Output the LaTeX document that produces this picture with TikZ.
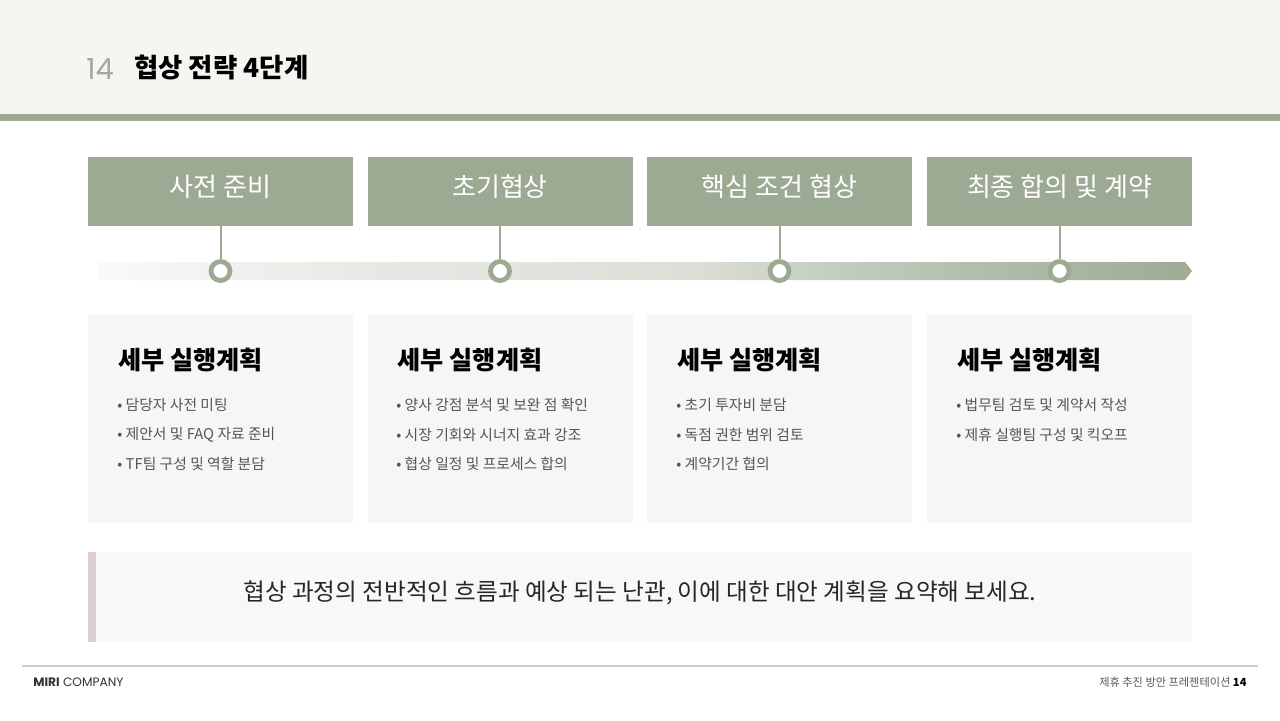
\documentclass[tikz,border=0pt]{standalone}
\usepackage{fontspec}
\setmainfont{Noto Sans CJK KR}
\newfontfamily\latinfont{Poppins}
\definecolor{hdrbg}{HTML}{F5F5F1}
\definecolor{sage}{HTML}{9DAA93}
\definecolor{numgray}{HTML}{A2A99A}
\definecolor{cardbg}{HTML}{F7F6F4}
\definecolor{notebg}{HTML}{FAF7F7}
\definecolor{notebar}{HTML}{DDCFCF}
\definecolor{footline}{HTML}{CCCCCC}
\definecolor{bultxt}{HTML}{555555}
\definecolor{tA}{HTML}{FAFAF8}
\definecolor{tB}{HTML}{E6E8E3}
\definecolor{tC}{HTML}{DCDFD8}
\definecolor{tD}{HTML}{BFCABC}
\definecolor{tE}{HTML}{AEBAA7}
\definecolor{tF}{HTML}{A0AB96}
\pgfdeclarehorizontalshading{tlshade}{100bp}{color(0bp)=(tA); color(25bp)=(tA); color(38bp)=(tB); color(52bp)=(tC); color(60bp)=(tD); color(67bp)=(tE); color(75bp)=(tF); color(100bp)=(tF)}
\tikzset{
  stagebox/.style={fill=sage, draw=none, minimum width=132.5pt, minimum height=34.5pt, inner sep=0pt},
  stagetext/.style={inner sep=0pt, text=white, font=\fontsize{13}{15}\selectfont},
  cardbox/.style={fill=cardbg, draw=none, minimum width=132.5pt, minimum height=104.5pt, inner sep=0pt},
  cardhead/.style={anchor=west, inner sep=0pt, font=\fontsize{12.6}{14}\selectfont\bfseries, text=black},
  bullet/.style={anchor=west, inner sep=0pt, font=\fontsize{7.4}{9}\selectfont, text=bultxt},
  stem/.style={draw=sage, line width=1pt},
  dot/.style={circle, draw=sage, fill=white, line width=2.4pt, minimum size=9.5pt, inner sep=0pt},
}
\begin{document}
\begin{tikzpicture}[x=0.5pt,y=-0.5pt]
\useasboundingbox (0,0) rectangle (1280,720);
\fill[white] (0,0) rectangle (1280,720);
% header
\fill[hdrbg] (0,0) rectangle (1280,114);
\fill[sage] (0,114) rectangle (1280,121);
\node[anchor=west, inner sep=0pt, text=numgray, font=\latinfont\fontsize{14.5}{16}\selectfont] (num) at (86,69) {14};
\node[anchor=west, inner sep=0pt, text=black, font=\fontsize{13.2}{15}\selectfont\bfseries] (title) at (134,68) {협상 전략 4단계};
% timeline bar
\shade[shading=tlshade] (97,262) -- (1185,262) -- (1192,271) -- (1185,280) -- (97,280) -- cycle;
% stages
\foreach \i/\cx/\lab in {1/220.5/사전 준비, 2/500/초기협상, 3/779.5/핵심 조건 협상, 4/1059.5/최종 합의 및 계약}{
  \node[stagebox] (s\i) at (\cx,191.5) {};
  \node[stagetext] (st\i) at (\cx,187) {\lab};
  \node[dot] (d\i) at (\cx,271) {};
  \draw[stem] (s\i.south) -- (d\i.north);
  \node[cardbox] (c\i) at (\cx,418.5) {};
  \node[cardhead] (h\i) at ([xshift=15pt]c\i.west |- 0,360) {세부 실행계획};
}
\node[bullet] (b11) at (117,405) {• 담당자 사전 미팅};
\node[bullet] (b12) at (117,435) {• 제안서 및 FAQ 자료 준비};
\node[bullet] (b13) at (117,464) {• TF팀 구성 및 역할 분담};
\node[bullet] (b21) at (396,405) {• 양사 강점 분석 및 보완 점 확인};
\node[bullet] (b22) at (396,435) {• 시장 기회와 시너지 효과 강조};
\node[bullet] (b23) at (396,464) {• 협상 일정 및 프로세스 합의};
\node[bullet] (b31) at (676,405) {• 초기 투자비 분담};
\node[bullet] (b32) at (676,435) {• 독점 권한 범위 검토};
\node[bullet] (b33) at (676,464) {• 계약기간 협의};
\node[bullet] (b41) at (956,405) {• 법무팀 검토 및 계약서 작성};
\node[bullet] (b42) at (956,435) {• 제휴 실행팀 구성 및 킥오프};
% note
\fill[notebg] (88,552) rectangle (1192,642);
\fill[notebar] (88,552) rectangle (96,642);
\node[inner sep=0pt, text=black!85, font=\fontsize{11.8}{14}\selectfont] (note) at (640,593) {협상 과정의 전반적인 흐름과 예상 되는 난관, 이에 대한 대안 계획을 요약해 보세요.};
% footer
\draw[footline, line width=1pt] (22,666) -- (1258,666);
\node[anchor=west, inner sep=0pt, text=black!80, font=\latinfont\fontsize{6.1}{7}\selectfont] (brand) at (33,682) {\textbf{MIRI} COMPANY};
\node[anchor=east, inner sep=0pt, text=black!65, font=\fontsize{5.6}{7}\selectfont] (pg) at (1247,682) {제휴 추진 방안 프레젠테이션 \textcolor{black}{\textbf{14}}};
\end{tikzpicture}
\end{document}
